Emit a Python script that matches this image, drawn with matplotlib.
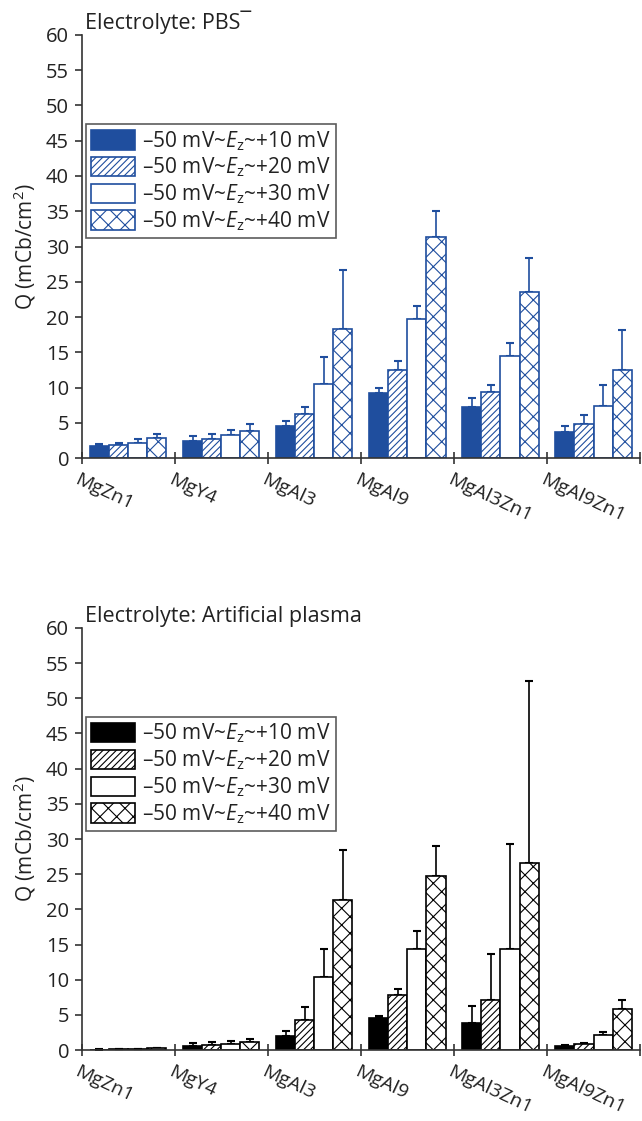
import matplotlib
matplotlib.use("Agg")
import matplotlib.pyplot as plt
import matplotlib.transforms as mtransforms
import numpy as np

plt.rcParams['font.family'] = ['Open Sans', 'DejaVu Sans']
plt.rcParams['hatch.linewidth'] = 0.8
plt.rcParams['mathtext.fontset'] = 'custom'
plt.rcParams['mathtext.rm'] = 'Open Sans'
plt.rcParams['mathtext.it'] = 'Open Sans:italic'

# alloys and ranges
alloys = ['MgZn1', 'MgY4', 'MgAl3', 'MgAl9', 'MgAl3Zn1', 'MgAl9Zn1']
ranges = ['+10', '+20', '+30', '+40']

# Q in mCb/cm2, PBS electrolyte (mean and top of error bar)
pbs_10 = [1.7, 2.4, 4.6, 9.2, 7.2, 3.7]
pbs_20 = [1.8, 2.7, 6.2, 12.5, 9.4, 4.8]
pbs_30 = [2.2, 3.2, 10.5, 19.7, 14.5, 7.4]
pbs_40 = [2.8, 3.9, 18.3, 31.4, 23.5, 12.5]
pbs_10_top = [2.0, 3.1, 5.2, 10.0, 8.5, 4.5]
pbs_20_top = [2.2, 3.4, 7.3, 13.7, 10.3, 6.1]
pbs_30_top = [2.7, 4.0, 14.3, 21.6, 16.3, 10.3]
pbs_40_top = [3.4, 4.8, 26.7, 35.0, 28.3, 18.2]

# artificial plasma electrolyte
ap_10 = [0.05, 0.6, 2.0, 4.6, 3.9, 0.6]
ap_20 = [0.1, 0.75, 4.3, 7.8, 7.1, 0.85]
ap_30 = [0.15, 0.9, 10.4, 14.4, 14.4, 2.2]
ap_40 = [0.25, 1.1, 21.4, 24.8, 26.6, 5.8]
ap_10_top = [0.1, 1.0, 2.7, 4.8, 6.2, 0.7]
ap_20_top = [0.15, 1.1, 6.1, 8.7, 13.6, 1.0]
ap_30_top = [0.2, 1.3, 14.4, 16.9, 29.3, 2.6]
ap_40_top = [0.3, 1.6, 28.5, 29.0, 52.5, 7.1]

blue = '#1f4e9e'
fs = 15
fig = plt.figure(figsize=(6.42, 11.21), dpi=100)
ax1 = fig.add_axes([0.127, 0.5914, 0.870, 0.3774])
ax2 = fig.add_axes([0.127, 0.0633, 0.870, 0.3765])


def draw(ax, means, tops, color, title):
    x = np.arange(len(alloys))
    width = 0.205
    styles = [dict(facecolor=color, hatch=None),
              dict(facecolor='white', hatch='/////'),
              dict(facecolor='white', hatch=None),
              dict(facecolor='white', hatch='xx')]
    for j, (m, t) in enumerate(zip(means, tops)):
        m = np.array(m)
        err = np.array(t) - m
        ax.bar(x + 0.09 + j * width, m, width=width, align='edge',
               edgecolor=color, linewidth=1.2, zorder=2,
               label='\u201350 mV~$\\mathit{E}_{\\mathrm{z}}$~' + ranges[j] + ' mV',
               **styles[j])
        ax.errorbar(x + 0.09 + (j + 0.5) * width, m,
                    yerr=[np.zeros_like(err), err], fmt='none',
                    ecolor=color, elinewidth=1.2, capsize=3, capthick=1.5,
                    zorder=1)
    ax.set_xlim(0, 6)
    ax.set_ylim(0, 60)
    ax.set_yticks(np.arange(0, 61, 5))
    ax.set_xticks(np.arange(0, 7))
    ax.set_xticklabels([])
    ax.spines['top'].set_visible(False)
    ax.spines['right'].set_visible(False)
    for s in ['left', 'bottom']:
        ax.spines[s].set_color('#333333')
        ax.spines[s].set_linewidth(1.2)
    ax.tick_params(axis='y', direction='out', length=5, width=1.2, pad=4,
                   labelsize=14.5, colors='#333333', labelcolor='#222222')
    ax.tick_params(axis='x', direction='inout', length=9, width=1.2,
                   colors='#333333')
    ax.set_ylabel('Q (mCb/cm$^{2}$)', fontsize=fs, color='#222222', labelpad=6)
    ax.text(0.006, 1.003, title, transform=ax.transAxes, fontsize=15.5,
            color='#222222', ha='left', va='bottom')
    off = mtransforms.offset_copy(ax.get_xaxis_transform(), fig=fig,
                                  x=-1, y=-9, units='points')
    for i, name in enumerate(alloys):
        ax.text(i, 0, name, transform=off, rotation=-25, rotation_mode='anchor',
                ha='left', va='top', fontsize=14, color='#222222')
    leg = ax.legend(loc='upper left', bbox_to_anchor=(0.008, 0.79),
                    fontsize=fs, handlelength=2.1, handleheight=1.05,
                    labelspacing=0.15, handletextpad=0.35, borderpad=0.25,
                    borderaxespad=0, fancybox=False, frameon=True)
    leg.get_frame().set_edgecolor('#333333')
    leg.get_frame().set_linewidth(1.2)
    for txt in leg.get_texts():
        txt.set_color('#222222')


draw(ax1, [pbs_10, pbs_20, pbs_30, pbs_40],
     [pbs_10_top, pbs_20_top, pbs_30_top, pbs_40_top], blue,
     'Electrolyte: PBS\u00af')
draw(ax2, [ap_10, ap_20, ap_30, ap_40],
     [ap_10_top, ap_20_top, ap_30_top, ap_40_top], 'black',
     'Electrolyte: Artificial plasma')

fig.savefig('out.png', dpi=100)
